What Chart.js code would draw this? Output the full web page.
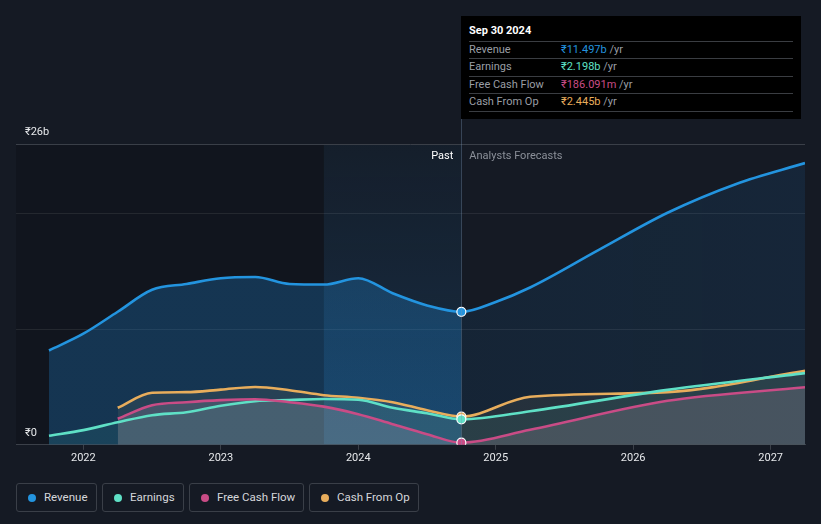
<!DOCTYPE html>
<html>
<head>
<meta charset="utf-8">
<script src="https://cdn.jsdelivr.net/npm/chart.js@4.4.1/dist/chart.umd.min.js"></script>
<style>
  html, body { margin:0; padding:0; background:#151a24; }
  body { width:821px; height:524px; position:relative; overflow:hidden; font-family: Roboto, "Noto Sans", sans-serif; }
  #wrap { position:absolute; left:0; top:0; width:821px; height:470px; }
  #tip { position:absolute; left:461px; top:16px; width:340px; height:103px; background:#000; }
  #tip .title { position:absolute; left:8px; top:8px; font-size:11px; font-weight:bold; color:#fff; }
  #tip .row { position:absolute; left:8px; width:324px; height:17px; border-top:1px solid #3a3d42; font-size:11px; line-height:16px; color:#9a9ea5; }
  #tip .row .v { position:absolute; left:92px; }
  #tip .bottomline { position:absolute; left:8px; width:324px; top:95px; border-top:1px solid #3a3d42; }
  #legend { position:absolute; left:16px; top:483px; height:29px; }
  .lg { position:absolute; top:0; height:27px; border:1px solid #3a3f48; border-radius:3px; font-size:11.5px; color:#d5d7db; line-height:27px; box-sizing:content-box; }
  .lg .dot { position:absolute; left:11px; top:10px; width:8px; height:8px; border-radius:50%; }
  .lg .t { position:absolute; left:27px; }
</style>
</head>
<body>
<div id="wrap"><canvas id="c" width="821" height="470"></canvas></div>
<div id="tip"></div>
<div id="legend"></div>
<script>
// ---- data (values in ₹ billions, x in decimal years) ----
const seriesNames = ["Revenue", "Earnings", "Free Cash Flow", "Cash From Op"];
const seriesColors = ["#2394df", "#5fe0c6", "#c94c86", "#e8ad5c"];

const revenueDates = [2021.75, 2022.0, 2022.25, 2022.5, 2022.75, 2023.0, 2023.25, 2023.5, 2023.75, 2024.0, 2024.25, 2024.5, 2024.75, 2025.0, 2025.25, 2025.75, 2026.25, 2026.75, 2027.25];
const revenueValues = [8.15, 9.6, 11.5, 13.4, 13.9, 14.4, 14.5, 13.9, 13.85, 14.4, 13.1, 12.05, 11.497, 12.35, 13.6, 16.85, 20.06, 22.55, 24.35];

const earningsDates = [2021.75, 2022.0, 2022.25, 2022.5, 2022.75, 2023.0, 2023.25, 2023.5, 2023.75, 2024.0, 2024.25, 2024.5, 2024.75, 2025.25, 2026.25, 2027.25];
const earningsValues = [0.78, 1.27, 1.95, 2.56, 2.82, 3.38, 3.77, 3.87, 3.96, 3.9, 3.2, 2.73, 2.198, 2.9, 4.75, 6.2];

const cashDates = [2022.25, 2022.5, 2022.75, 2023.0, 2023.25, 2023.5, 2023.75, 2024.0, 2024.25, 2024.5, 2024.75, 2025.25, 2026.25, 2027.25];
const fcfValues = [2.25, 3.42, 3.68, 3.86, 3.94, 3.68, 3.3, 2.65, 1.78, 0.92, 0.186, 1.3, 3.8, 4.97];
const cfoValues = [3.2, 4.5, 4.55, 4.77, 5.0, 4.72, 4.29, 4.07, 3.68, 2.99, 2.445, 4.15, 4.55, 6.4];

const xTicks = [2022, 2023, 2024, 2025, 2026, 2027];
const yTicks = [0, 10, 20, 26];
const yLabels = { 0: "₹0", 26: "₹26b" };

const tipTitle = "Sep 30 2024";
const tipValues = ["₹11.497b", "₹2.198b", "₹186.091m", "₹2.445b"];
const nowX = 2024.75;
const pastStart = 2023.75;

// ---- helpers ----
const pts = (xs, ys) => xs.map((x, i) => ({ x, y: ys[i] }));
const radiusAtNow = (ctx) => (ctx.raw && ctx.raw.x === nowX ? 4.5 : 0);

function revFill(ctx) {
  const ch = ctx.chart, a = ch.chartArea;
  if (!a) return 'rgba(33,150,243,0.2)';
  const xp = ch.scales.x.getPixelForValue(nowX);
  const g = ch.ctx.createLinearGradient(a.left, 0, a.right, 0);
  const s = Math.min(1, Math.max(0, (xp - a.left) / (a.right - a.left)));
  g.addColorStop(0, 'rgba(33,140,220,0.27)');
  g.addColorStop(s, 'rgba(33,140,220,0.27)');
  g.addColorStop(Math.min(1, s + 0.0001), 'rgba(33,130,210,0.10)');
  g.addColorStop(1, 'rgba(33,130,210,0.12)');
  return g;
}

const bgPlugin = {
  id: 'bg',
  beforeDraw(chart) {
    const { ctx, chartArea: a, scales } = chart;
    const xs = scales.x;
    const pPast = xs.getPixelForValue(pastStart);
    const pNow = xs.getPixelForValue(nowX);
    ctx.save();
    ctx.fillStyle = 'rgba(0,0,0,0.16)';
    ctx.fillRect(a.left, a.top, pPast - a.left, a.bottom - a.top);
    const g = ctx.createLinearGradient(0, a.top, 0, a.bottom);
    g.addColorStop(0, 'rgba(30,110,170,0.06)');
    g.addColorStop(1, 'rgba(30,120,190,0.22)');
    ctx.fillStyle = g;
    ctx.fillRect(pPast, a.top, pNow - pPast, a.bottom - a.top);
    ctx.restore();
  },
  afterDatasetsDraw(chart) {
    const { ctx, chartArea: a, scales } = chart;
    const pNow = scales.x.getPixelForValue(nowX);
    ctx.save();
    ctx.strokeStyle = 'rgba(120,150,180,0.35)';
    ctx.lineWidth = 1;
    ctx.beginPath();
    ctx.moveTo(Math.round(pNow) + 0.5, 119);
    ctx.lineTo(Math.round(pNow) + 0.5, a.bottom);
    ctx.stroke();
    ctx.font = '11px Roboto, "Noto Sans", sans-serif';
    ctx.textBaseline = 'middle';
    ctx.textAlign = 'right';
    ctx.fillStyle = '#ffffff';
    ctx.fillText('Past', pNow - 8, a.top + 12);
    ctx.textAlign = 'left';
    ctx.fillStyle = '#8b9099';
    ctx.fillText('Analysts Forecasts', pNow + 8, a.top + 12);
    ctx.restore();
  }
};

const lineDs = (label, data, color, fillColor, order) => ({
  label, data,
  borderColor: color,
  backgroundColor: fillColor,
  borderWidth: 2.6,
  fill: 'origin',
  cubicInterpolationMode: 'monotone',
  pointRadius: radiusAtNow,
  pointHoverRadius: radiusAtNow,
  pointBackgroundColor: color,
  pointBorderColor: '#ffffff',
  pointBorderWidth: 1.2,
  order
});

new Chart(document.getElementById('c'), {
  type: 'line',
  data: {
    datasets: [
      lineDs(seriesNames[0], pts(revenueDates, revenueValues), seriesColors[0], revFill, 4),
      lineDs(seriesNames[1], pts(earningsDates, earningsValues), seriesColors[1], 'rgba(88,224,200,0.08)', 2),
      lineDs(seriesNames[2], pts(cashDates, fcfValues), seriesColors[2], 'rgba(205,180,195,0.18)', 1),
      lineDs(seriesNames[3], pts(cashDates, cfoValues), seriesColors[3], 'rgba(190,170,130,0.10)', 3)
    ]
  },
  options: {
    responsive: false,
    animation: false,
    layout: { padding: { left: 16, right: 16, top: 144, bottom: 3 } },
    plugins: {
      legend: { display: false },
      tooltip: { enabled: false },
      filler: { drawTime: 'beforeDatasetsDraw' }
    },
    scales: {
      x: {
        type: 'linear',
        min: 2021.51,
        max: 2027.25,
        afterBuildTicks: (s) => { s.ticks = xTicks.map(v => ({ value: v })); },
        ticks: {
          color: '#e6e8eb',
          font: { family: 'Roboto, "Noto Sans", sans-serif', size: 11 },
          padding: 2,
          maxRotation: 0,
          callback: (v) => String(v)
        },
        grid: { display: true, drawOnChartArea: false, drawTicks: true, tickLength: 5, color: '#3b4049' },
        border: { display: true, color: '#3b4049', width: 1 }
      },
      y: {
        type: 'linear',
        min: 0,
        max: 26,
        afterBuildTicks: (s) => { s.ticks = yTicks.map(v => ({ value: v })); },
        afterFit: (s) => { s.width = 0; },
        ticks: {
          mirror: true,
          padding: 9,
          labelOffset: -12,
          color: '#e6e8eb',
          font: { family: 'Roboto, "Noto Sans", sans-serif', size: 11 },
          callback: (v) => yLabels[v] || ''
        },
        grid: {
          drawTicks: false,
          color: (c) => (c.tick && c.tick.value === 26 ? '#3a3f48' : (c.tick && c.tick.value === 0 ? 'rgba(0,0,0,0)' : 'rgba(255,255,255,0.08)'))
        },
        border: { display: false }
      }
    }
  },
  plugins: [bgPlugin]
});

// ---- tooltip box (HTML text) ----
const tip = document.getElementById('tip');
let html = '<div class="title">' + tipTitle + '</div>';
const rowTops = [25, 42, 60, 77];
seriesNames.forEach((n, i) => {
  html += '<div class="row" style="top:' + rowTops[i] + 'px">' + n +
    '<span class="v"><span style="color:' + seriesColors[i] + '">' + tipValues[i] + '</span> /yr</span></div>';
});
html += '<div class="bottomline"></div>';
tip.innerHTML = html;

// ---- legend ----
const lg = document.getElementById('legend');
const lgLeft = [0, 86, 173, 293];
const lgWidth = [79, 80, 113, 108];
seriesNames.forEach((n, i) => {
  const d = document.createElement('div');
  d.className = 'lg';
  d.style.left = lgLeft[i] + 'px';
  d.style.width = lgWidth[i] + 'px';
  d.innerHTML = '<span class="dot" style="background:' + seriesColors[i] + '"></span><span class="t">' + n + '</span>';
  lg.appendChild(d);
});
</script>
</body>
</html>
